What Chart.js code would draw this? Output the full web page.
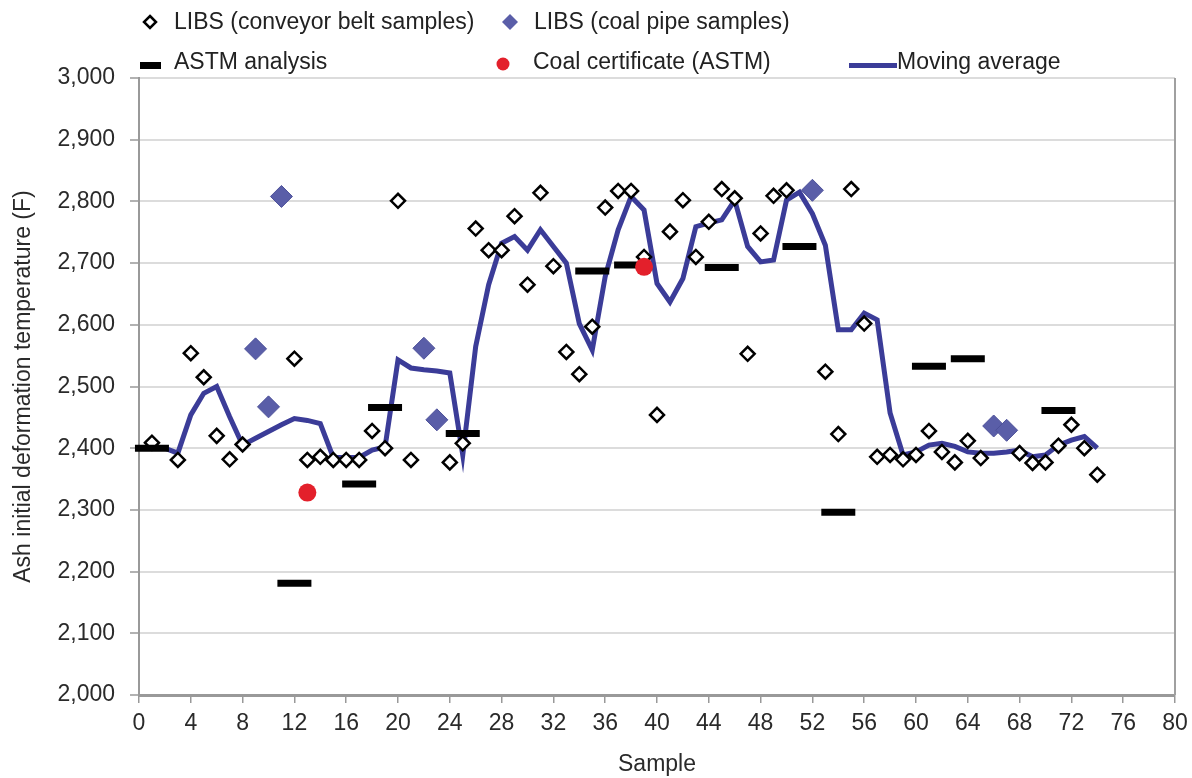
<!DOCTYPE html>
<html>
<head>
<meta charset="utf-8">
<script src="https://cdn.jsdelivr.net/npm/chart.js@4/dist/chart.umd.min.js"></script>
<style>
  html, body { margin: 0; padding: 0; background: #fff; }
  #wrap { position: relative; width: 1192px; height: 778px; }
  #chart { position: absolute; left: 0; top: 0; }
  .lg { position: absolute; font-family: "Liberation Sans", Arial, sans-serif;
        font-size: 23px; color: #222; line-height: 26px; white-space: nowrap; }
  .sym { position: absolute; }
</style>
</head>
<body>
<div id="wrap">
  <canvas id="chart" width="1192" height="778"></canvas>
</div>
<script>
/* ========================================
   Ash deformation temperature — LIBS vs ASTM
   ======================================== */

const xTicks = [0, 4, 8, 12, 16, 20, 24, 28, 32, 36, 40, 44, 48, 52, 56, 60, 64, 68, 72, 76, 80];
const yTicks = [2000, 2100, 2200, 2300, 2400, 2500, 2600, 2700, 2800, 2900, 3000];

/* LIBS (conveyor belt samples) */
const beltSamples = [1, 3, 4, 5, 6, 7, 8, 12, 13, 14, 15, 16, 17, 18, 19, 20, 21, 24, 25,
  26, 27, 28, 29, 30, 31, 32, 33, 34, 35, 36, 37, 38, 39, 40, 41, 42, 43, 44, 45, 46, 47, 48,
  49, 50, 53, 54, 55, 56, 57, 58, 59, 60, 61, 62, 63, 64, 65, 68, 69, 70, 71, 72, 73, 74];
const beltValues = [2409, 2381, 2554, 2515, 2420, 2382, 2406, 2545, 2381, 2386, 2381, 2381, 2381, 2428, 2400, 2801, 2381, 2377, 2408,
  2756, 2721, 2721, 2776, 2665, 2814, 2695, 2556, 2520, 2597, 2790, 2817, 2817, 2710, 2454, 2751, 2802, 2710, 2767, 2820, 2805, 2553, 2748,
  2809, 2818, 2524, 2423, 2820, 2602, 2386, 2389, 2382, 2389, 2428, 2394, 2377, 2412, 2384, 2392, 2376, 2377, 2404, 2438, 2400, 2357];

/* LIBS (coal pipe samples) */
const pipeSamples = [9, 10, 11, 22, 23, 52, 66, 67];
const pipeValues  = [2561, 2467, 2808, 2562, 2446, 2818, 2436, 2429];

/* ASTM analysis */
const astmSamples = [1, 12, 17, 19, 25, 35, 38, 45, 51, 54, 61, 64, 71];
const astmValues  = [2400, 2181, 2342, 2466, 2424, 2687, 2697, 2693, 2727, 2296, 2533, 2545, 2461];

/* Coal certificate (ASTM) */
const certSamples = [13, 39];
const certValues  = [2328, 2694];

/* Moving average */
const avgSamples = [1, 2, 3, 4, 5, 6, 7, 8, 9, 10, 11, 12, 13, 14, 15, 16, 17, 18, 19, 20, 21, 22, 23, 24, 25,
  26, 27, 28, 29, 30, 31, 32, 33, 34, 35, 36, 37, 38, 39, 40, 41, 42, 43, 44, 45, 46, 47, 48, 49, 50,
  51, 52, 53, 54, 55, 56, 57, 58, 59, 60, 61, 62, 63, 64, 65, 66, 67, 68, 69, 70, 71, 72, 73, 74];
const avgValues = [2400, 2400, 2392, 2454, 2489, 2500, 2451, 2405, 2416, 2427, 2438, 2448, 2445, 2440, 2385, 2385, 2385, 2397, 2402, 2543, 2530, 2527, 2525, 2522, 2389,
  2565, 2665, 2732, 2743, 2721, 2754, 2727, 2700, 2602, 2559, 2678, 2754, 2808, 2786, 2667, 2637, 2675, 2759, 2765, 2770, 2802, 2727, 2702, 2705, 2802,
  2815, 2780, 2729, 2592, 2592, 2619, 2608, 2457, 2389, 2394, 2405, 2408, 2403, 2394, 2392, 2392, 2394, 2397, 2386, 2389, 2405, 2413, 2419, 2400];

const FONT = '"Liberation Sans", Arial, sans-serif';
const INK  = '#2a2a2a';
const toPoints = (xs, ys) => xs.map((x, i) => ({ x, y: ys[i] }));

/* ---- Legend (two rows, html) ---- */
const wrap = document.getElementById('wrap');
function addLegend(symX, symY, w, h, svg, textX, textY, text) {
  const s = document.createElement('div');
  s.className = 'sym';
  s.style.left = symX + 'px';
  s.style.top  = symY + 'px';
  s.innerHTML  = `<svg width="${w}" height="${h}">${svg}</svg>`;
  wrap.appendChild(s);
  const t = document.createElement('div');
  t.className = 'lg';
  t.style.left = textX + 'px';
  t.style.top  = textY + 'px';
  t.textContent = text;
  wrap.appendChild(t);
}
addLegend(142, 14, 16, 16, '<polygon points="8,2 14,8 8,14 2,8" fill="#fff" stroke="#000" stroke-width="2.5"/>', 174, 8, 'LIBS (conveyor belt samples)');
addLegend(501, 13, 18, 18, '<polygon points="9,1 17,9 9,17 1,9" fill="#5a5ea8"/>', 534, 8, 'LIBS (coal pipe samples)');
addLegend(140, 57, 22, 10, '<rect x="0" y="1" width="21" height="7" fill="#000"/>', 174, 48, 'ASTM analysis');
addLegend(496, 57, 16, 16, '<circle cx="7" cy="7" r="6.5" fill="#e3202b"/>', 533, 48, 'Coal certificate (ASTM)');
addLegend(849, 57, 48, 10, '<rect x="0" y="2" width="48" height="5" fill="#3b3c98"/>', 897, 48, 'Moving average');

/* right-hand frame line of the plot area */
const framePlugin = {
  id: 'frame',
  afterDatasetsDraw(chart) {
    const { ctx, chartArea: a } = chart;
    ctx.save();
    ctx.strokeStyle = '#a0a0a0';
    ctx.lineWidth = 2;
    ctx.beginPath();
    ctx.moveTo(a.right, a.top);
    ctx.lineTo(a.right, a.bottom);
    ctx.stroke();
    ctx.restore();
  },
};

new Chart(document.getElementById('chart').getContext('2d'), {
  type: 'scatter',
  data: {
    datasets: [
      {
        label: 'LIBS (conveyor belt samples)',
        data: toPoints(beltSamples, beltValues),
        pointStyle: 'rectRot',
        pointRadius: 7,
        backgroundColor: '#fff',
        borderColor: '#000',
        pointBorderWidth: 2.5,
        clip: false,
        order: 4,
      },
      {
        label: 'LIBS (coal pipe samples)',
        data: toPoints(pipeSamples, pipeValues),
        pointStyle: 'rectRot',
        pointRadius: 11,
        backgroundColor: '#5a5ea8',
        borderColor: '#4d5199',
        pointBorderWidth: 1,
        clip: false,
        order: 2,
      },
      {
        label: 'ASTM analysis',
        data: toPoints(astmSamples, astmValues),
        pointStyle: 'line',
        pointRadius: 17,
        borderColor: '#000',
        pointBorderWidth: 7,
        clip: false,
        order: 3,
      },
      {
        label: 'Coal certificate (ASTM)',
        data: toPoints(certSamples, certValues),
        pointStyle: 'circle',
        pointRadius: 9,
        backgroundColor: '#e3202b',
        borderColor: '#e3202b',
        pointBorderWidth: 0,
        clip: false,
        order: 1,
      },
      {
        type: 'line',
        label: 'Moving average',
        data: toPoints(avgSamples, avgValues),
        borderColor: '#3b3c98',
        borderWidth: 5,
        pointRadius: 0,
        tension: 0,
        fill: false,
        order: 5,
      },
    ],
  },
  options: {
    responsive: false,
    animation: false,
    layout: { autoPadding: false, padding: { top: 78, right: 17, left: 0, bottom: 0 } },
    plugins: { legend: { display: false }, tooltip: { enabled: false } },
    scales: {
      x: {
        type: 'linear',
        min: xTicks[0],
        max: xTicks[xTicks.length - 1],
        afterBuildTicks: s => { s.ticks = xTicks.map(v => ({ value: v })); },
        afterFit: s => { s.height = 83; s.paddingLeft = 0; s.paddingRight = 0; },
        ticks: { color: INK, font: { family: FONT, size: 23 }, padding: 7, maxRotation: 0 },
        grid : { drawOnChartArea: false, drawTicks: true, tickLength: 8, color: '#999', lineWidth: 1.5 },
        border: { color: '#999', width: 3 },
        title: { display: true, text: 'Sample', color: INK, font: { family: FONT, size: 23 }, padding: { top: 4, bottom: 0 } },
      },
      y: {
        min: yTicks[0],
        max: yTicks[yTicks.length - 1],
        afterBuildTicks: s => { s.ticks = yTicks.map(v => ({ value: v })); },
        afterFit: s => { s.width = 139; s.paddingTop = 0; s.paddingBottom = 0; },
        ticks: {
          color: INK,
          font: { family: FONT, size: 23 },
          padding: 15,
          callback: v => v.toLocaleString('en-US'),
        },
        grid : { color: '#dcdcdc', lineWidth: 2, tickLength: 9, tickColor: '#999', tickWidth: 1.5 },
        border: { color: '#999', width: 2 },
        title: { display: true, text: 'Ash initial deformation temperature (F)', color: INK, font: { family: FONT, size: 23 }, padding: { top: 10, bottom: 0 } },
      },
    },
  },
  plugins: [framePlugin],
});
</script>
</body>
</html>
